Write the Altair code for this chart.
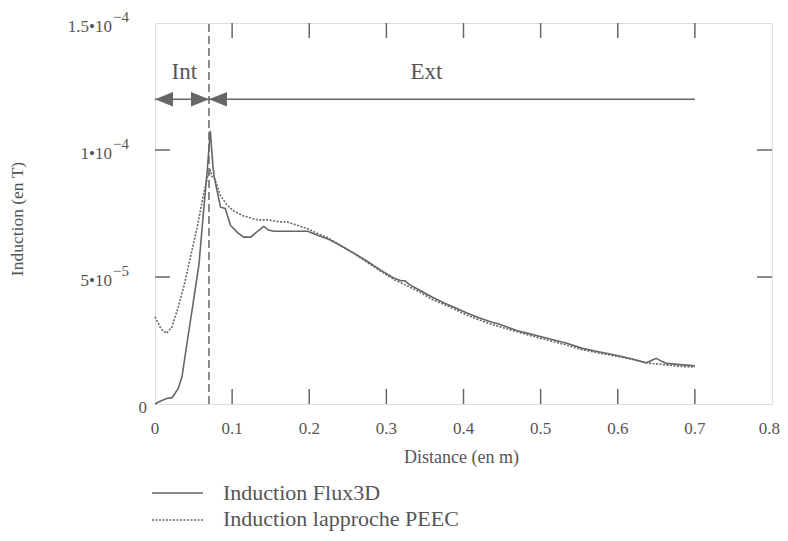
import altair as alt
import pandas as pd

# ---------------- data ----------------
flux_x = [0, 0.006, 0.015, 0.022, 0.03, 0.035, 0.042, 0.05, 0.057, 0.063, 0.068, 0.0717,
          0.075, 0.077, 0.085, 0.091, 0.098, 0.107, 0.115, 0.124, 0.133, 0.141, 0.147, 0.154,
          0.175, 0.198, 0.21, 0.224, 0.24, 0.259, 0.275, 0.293, 0.31, 0.319, 0.324, 0.33,
          0.345, 0.359, 0.375, 0.39, 0.406, 0.42, 0.435, 0.446, 0.454, 0.47, 0.486, 0.502,
          0.52, 0.535, 0.554, 0.575, 0.598, 0.615, 0.637, 0.645, 0.65, 0.657, 0.663, 0.68, 0.7]
flux_y = [0, 0.1, 0.22, 0.25, 0.6, 1.07, 2.5, 4.08, 5.5, 7.6, 9.3, 10.76,
          9.4, 8.9, 7.75, 7.7, 7.03, 6.75, 6.57, 6.57, 6.8, 6.99, 6.85, 6.8,
          6.8, 6.8, 6.65, 6.5, 6.25, 5.92, 5.62, 5.26, 4.95, 4.85, 4.85, 4.7,
          4.45, 4.21, 3.98, 3.78, 3.56, 3.4, 3.24, 3.15, 3.06, 2.88, 2.76, 2.64,
          2.5, 2.38, 2.19, 2.06, 1.92, 1.8, 1.62, 1.73, 1.8, 1.68, 1.6, 1.55, 1.5]

peec_x = [0, 0.008, 0.015, 0.022, 0.03, 0.038, 0.046, 0.055, 0.063, 0.069, 0.0717, 0.074,
          0.077, 0.085, 0.093, 0.102, 0.115, 0.133, 0.146, 0.16, 0.172, 0.185, 0.198, 0.21,
          0.224, 0.24, 0.259, 0.275, 0.293, 0.31, 0.324, 0.345, 0.359, 0.38, 0.406, 0.43,
          0.454, 0.48, 0.502, 0.53, 0.554, 0.575, 0.598, 0.62, 0.637, 0.66, 0.68, 0.7]
peec_y = [3.43, 2.95, 2.78, 3.04, 3.8, 4.7, 5.79, 7.0, 8.27, 9.06, 9.2, 8.95,
          8.9, 8.2, 7.85, 7.6, 7.4, 7.25, 7.25, 7.18, 7.16, 7.03, 6.9, 6.72,
          6.55, 6.25, 5.9, 5.58, 5.22, 4.9, 4.7, 4.38, 4.12, 3.85, 3.48, 3.2,
          2.98, 2.75, 2.57, 2.35, 2.14, 2.01, 1.88, 1.75, 1.62, 1.55, 1.48, 1.45]

x_ticks = [0, 0.1, 0.2, 0.3, 0.4, 0.5, 0.6, 0.7, 0.8]
x_labels = ["0", "0.1", "0.2", "0.3", "0.4", "0.5", "0.6", "0.7", "0.8"]
y_ticks = [5e-5, 1e-4, 1.5e-4]
y_base = ["5•10", "1•10", "1.5•10"]
y_exp = ["−5", "−4", "−4"]

boundary_x = 0.07
arrow_y = 1.2e-4
arrow_end = 0.7
zones = ["Int", "Ext"]
zone_x = [0.038, 0.352]
zone_y = [1.28e-4, 1.28e-4]

legend_labels = ["Induction Flux3D", "Induction lapproche PEEC"]

# ---------------- layout ----------------
W, H = 617, 381
GREY = "#666666"
TXT = "#555555"
FONT = "Liberation Serif"

xs = alt.Scale(domain=[0, 0.8], nice=False, zero=False)
ys = alt.Scale(domain=[0, 1.5e-4], nice=False, zero=False)

flux = pd.DataFrame({"x": flux_x, "y": [v * 1e-5 for v in flux_y]})
peec = pd.DataFrame({"x": peec_x, "y": [v * 1e-5 for v in peec_y]})

X = lambda f="x": alt.X(f, type="quantitative", scale=xs, axis=None)
Y = lambda f="y": alt.Y(f, type="quantitative", scale=ys, axis=None)

line_flux = alt.Chart(flux).mark_line(color=GREY, strokeWidth=1.6).encode(x=X(), y=Y())
line_peec = alt.Chart(peec).mark_line(color=GREY, strokeWidth=1.6, strokeDash=[2, 1.5]).encode(x=X(), y=Y())

# boundary dashed line
bdf = pd.DataFrame({"x": [boundary_x], "y0": [0], "y1": [1.5e-4]})
boundary = alt.Chart(bdf).mark_rule(color=GREY, strokeWidth=1.5, strokeDash=[8, 4]).encode(
    x=X(), y=Y("y0"), y2="y1")

# arrow line
adf = pd.DataFrame({"x0": [0], "x1": [arrow_end], "y": [arrow_y]})
arrow_line = alt.Chart(adf).mark_rule(color=GREY, strokeWidth=1.5).encode(x=X("x0"), x2="x1", y=Y())

left_tip = "M0,0L2,-0.8L2,0.8Z"
right_tip = "M0,0L-2,-0.8L-2,0.8Z"
hl = pd.DataFrame({"x": [0, boundary_x], "y": [arrow_y, arrow_y]})
hr = pd.DataFrame({"x": [boundary_x], "y": [arrow_y]})
heads_left = alt.Chart(hl).mark_point(shape=left_tip, size=324, filled=True, color=GREY, opacity=1).encode(x=X(), y=Y())
heads_right = alt.Chart(hr).mark_point(shape=right_tip, size=324, filled=True, color=GREY, opacity=1).encode(x=X(), y=Y())

zdf = pd.DataFrame({"t": zones, "x": zone_x, "y": zone_y})
zone_text = alt.Chart(zdf).mark_text(font=FONT, fontSize=23, color=TXT, baseline="alphabetic").encode(
    x=X(), y=Y(), text="t:N")

# ticks (inward)
TL = 15
xt = pd.DataFrame({"x": x_ticks[1:-1]})
ticks_bottom = alt.Chart(xt).mark_rule(color=GREY, strokeWidth=1.5).encode(
    x=X(), y=alt.value(H), y2=alt.value(H - TL))
ticks_top = alt.Chart(xt).mark_rule(color=GREY, strokeWidth=1.5).encode(
    x=X(), y=alt.value(0), y2=alt.value(TL))
yt = pd.DataFrame({"y": y_ticks[:-1]})
ticks_left = alt.Chart(yt).mark_rule(color=GREY, strokeWidth=1.5).encode(
    y=Y(), x=alt.value(0), x2=alt.value(TL))
ticks_right = alt.Chart(yt).mark_rule(color=GREY, strokeWidth=1.5).encode(
    y=Y(), x=alt.value(W), x2=alt.value(W - TL))

# tick labels
xl = pd.DataFrame({"x": x_ticks[:-1], "t": x_labels[:-1]})
x_lab = alt.Chart(xl).mark_text(font=FONT, fontSize=17, color=TXT, baseline="alphabetic").encode(
    x=X(), y=alt.value(H + 30), text="t:N")
xl_last = pd.DataFrame({"x": x_ticks[-1:], "t": x_labels[-1:]})
x_lab_last = alt.Chart(xl_last).mark_text(font=FONT, fontSize=17, color=TXT, baseline="alphabetic",
                                          align="right", dx=8).encode(
    x=X(), y=alt.value(H + 30), text="t:N")

yl = pd.DataFrame({"y": y_ticks, "b": y_base, "e": y_exp})
y_lab = alt.Chart(yl).mark_text(font=FONT, fontSize=17, color=TXT, align="right", baseline="middle", dy=4).encode(
    y=Y(), x=alt.value(-43), text="b:N")
y_exp_lab = alt.Chart(yl).mark_text(font=FONT, fontSize=15, color=TXT, align="left", baseline="middle", dy=-6).encode(
    y=Y(), x=alt.value(-42), text="e:N")
zl = pd.DataFrame({"y": [0], "t": ["0"]})
y_zero = alt.Chart(zl).mark_text(font=FONT, fontSize=17, color=TXT, align="right", baseline="middle", dy=4).encode(
    y=Y(), x=alt.value(-8), text="t:N")

# axis titles
tdf = pd.DataFrame({"t": ["Distance (en m)"]})
x_title = alt.Chart(tdf).mark_text(font=FONT, fontSize=18, color=TXT, baseline="alphabetic").encode(
    x=alt.value(W / 2 - 2), y=alt.value(H + 59), text="t:N")
ydf = pd.DataFrame({"t": ["Induction (en T)"]})
y_title = alt.Chart(ydf).mark_text(font=FONT, fontSize=17.5, color=TXT, angle=270, baseline="middle").encode(
    x=alt.value(-137), y=alt.value(196), text="t:N")

# legend
leg_text1 = alt.Chart(pd.DataFrame({"t": [legend_labels[0]]})).mark_text(
    font=FONT, fontSize=22, color=TXT, align="left", baseline="alphabetic").encode(
    x=alt.value(68), y=alt.value(H + 96), text="t:N")
leg_text2 = alt.Chart(pd.DataFrame({"t": [legend_labels[1]]})).mark_text(
    font=FONT, fontSize=22, color=TXT, align="left", baseline="alphabetic").encode(
    x=alt.value(68), y=alt.value(H + 122), text="t:N")
leg_solid = alt.Chart(pd.DataFrame({"t": [legend_labels[0]]})).mark_rule(color=GREY, strokeWidth=1.6).encode(
    x=alt.value(-3), x2=alt.value(48), y=alt.value(H + 89))
leg_dot = alt.Chart(pd.DataFrame({"t": [legend_labels[1]]})).mark_rule(color=GREY, strokeWidth=1.6, strokeDash=[2, 1.5]).encode(
    x=alt.value(-3), x2=alt.value(48), y=alt.value(H + 116))

chart = alt.layer(
    boundary, arrow_line, heads_left, heads_right, zone_text,
    ticks_bottom, ticks_top, ticks_left, ticks_right,
    line_peec, line_flux,
    x_lab, x_lab_last, y_lab, y_exp_lab, y_zero, x_title, y_title,
    leg_text1, leg_text2, leg_solid, leg_dot,
).properties(
    width=W, height=H,
    autosize=alt.AutoSizeParams(type="none"),
    padding={"left": 147, "top": 15, "right": 8, "bottom": 129},
).configure_view(stroke=GREY, strokeWidth=1.5).configure(background="white")

chart.save("out.html", embed_options={"renderer": "svg", "actions": False})
